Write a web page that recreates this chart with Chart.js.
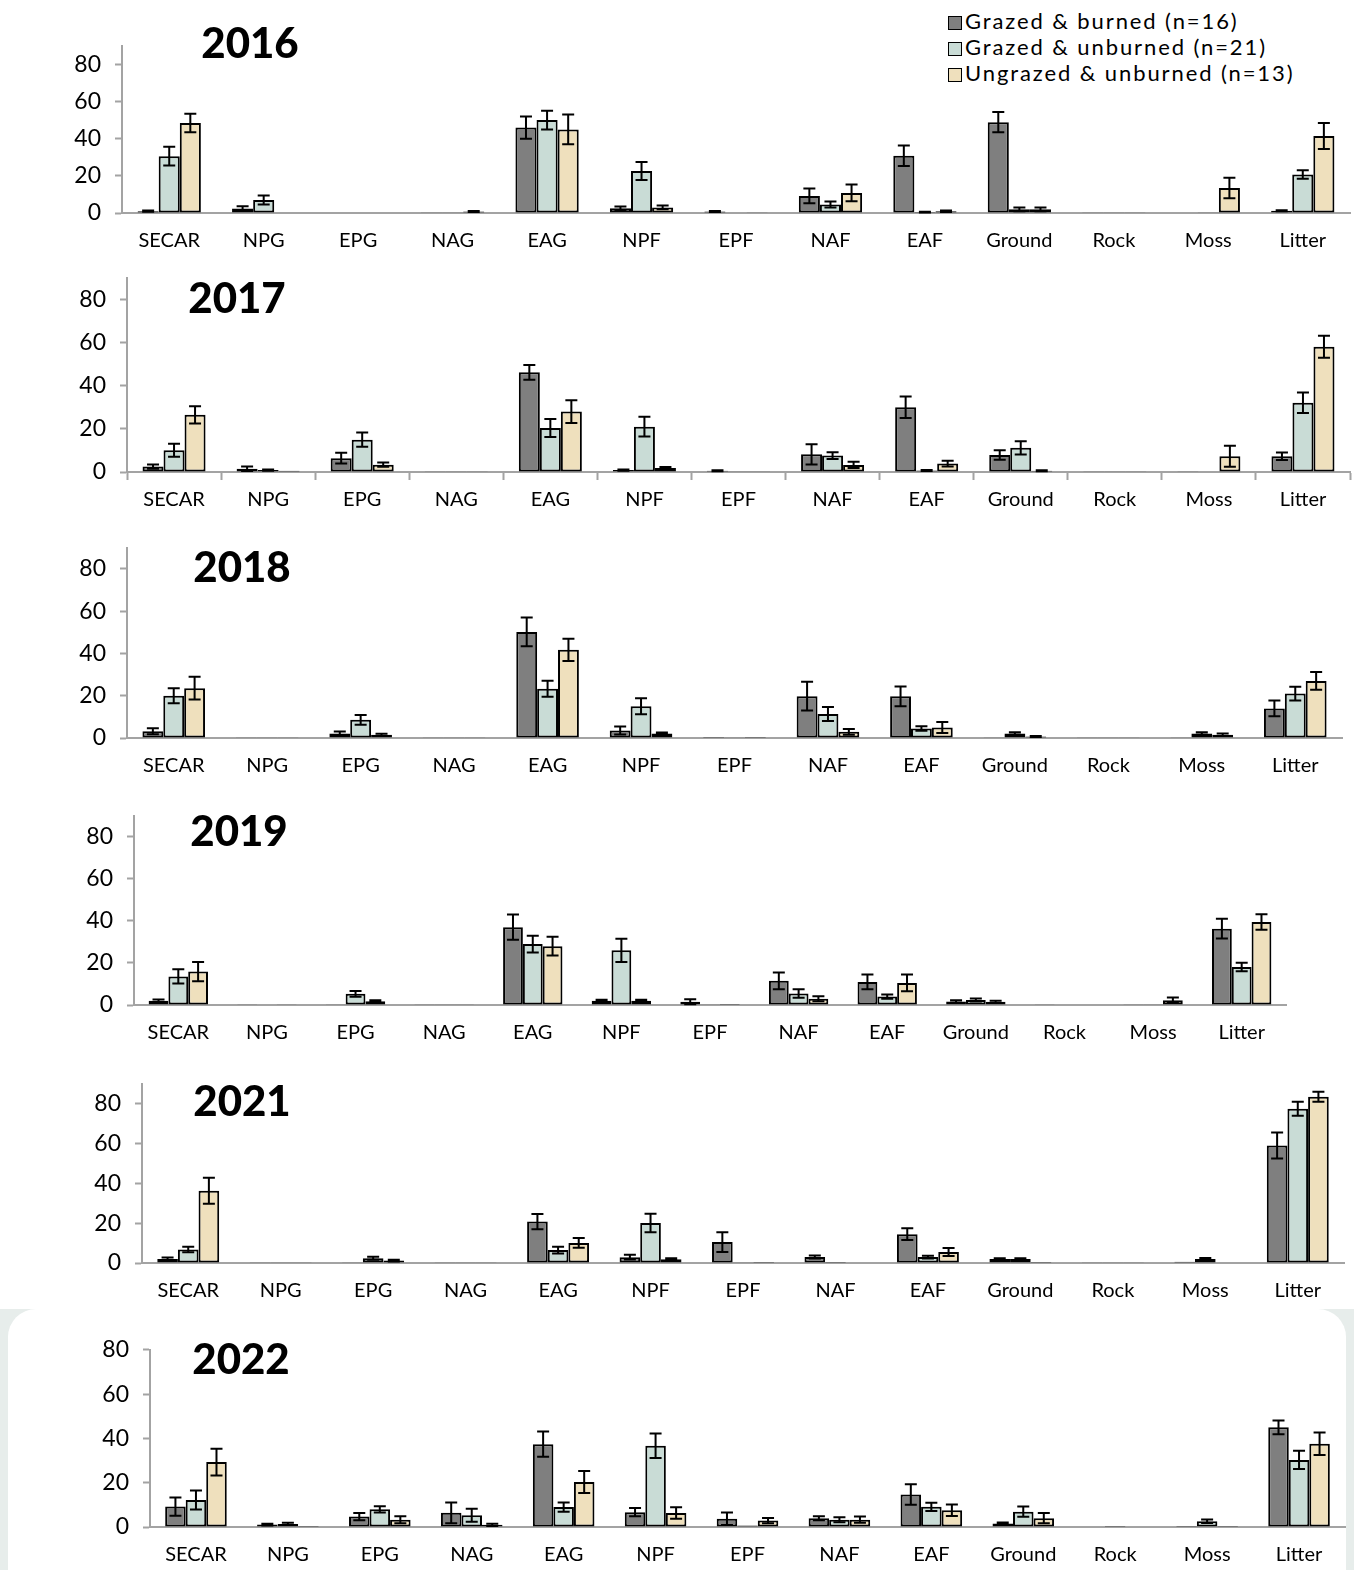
<!DOCTYPE html>
<html lang="en">
<head>
<meta charset="UTF-8">
<title>Cover by treatment</title>
<script src="https://cdn.jsdelivr.net/npm/chart.js@4.4.1/dist/chart.umd.min.js"></script>
<style>
  body { margin: 0; background: #fff; font-family: Lato, "Noto Sans", sans-serif; }
  #page { position: relative; width: 1354px; height: 1570px; overflow: hidden; }
  .panel { position: absolute; left: 0; }
  .year { position: absolute; font-weight: 900; font-size: 42px; transform: translate(-50%, -50%); color: #000; }
  #frame { position: absolute; left: 0; top: 1309px; width: 1354px; height: 261px; background: #e7edeb; }
  #frame div { position: absolute; left: 8px; top: 0; width: 1338px; height: 320px; background: #fff; border-radius: 28px; }
  #legend { position: absolute; left: 948px; top: 8px; font-size: 22px; letter-spacing: 1.9px; }
  #legend .row { height: 26px; line-height: 26px; white-space: nowrap; }
  #legend .sw { display: inline-block; width: 12px; height: 12px; border: 1.5px solid #000; margin-right: 3px; vertical-align: -1px; }
</style>
</head>
<body>
<div id="page">
  <div id="frame"><div></div></div>
  <div id="legend"></div>
</div>
<script>
const categories = ['SECAR', 'NPG', 'EPG', 'NAG', 'EAG', 'NPF', 'EPF', 'NAF', 'EAF', 'Ground', 'Rock', 'Moss', 'Litter'];
const seriesNames = ['Grazed & burned (n=16)', 'Grazed & unburned (n=21)', 'Ungrazed & unburned (n=13)'];
const seriesColors = ['#7f7f7f', '#c9dcd6', '#efe0bd'];
const yTicks = [0, 20, 40, 60, 80];

// mean cover (%) and standard error, per treatment
const gb2016 = [1, 2.4, 0, 0.2, 46, 2.5, 0.8, 9.2, 30.8, 48.9, 0.2, 0, 1.2];
const gb2016Err = [0.3, 1.2, 0, 0, 6, 1, 0.3, 4, 5.5, 5.5, 0, 0, 0.3];
const gu2016 = [30.6, 7, 0, 0.2, 50, 22.6, 0, 4.6, 0.5, 2, 0.2, 0.2, 20.7];
const gu2016Err = [5, 2.4, 0, 0, 5, 4.8, 0, 1.6, 0.2, 1, 0, 0, 2.3];
const uu2016 = [48.4, 0.3, 0, 0.8, 45, 3, 0.2, 10.8, 1, 2, 0.2, 13.5, 41.5];
const uu2016Err = [5, 0, 0, 0.3, 8, 1, 0, 4.5, 0.4, 1, 0, 5.5, 7];

const gb2017 = [2.5, 1.5, 6.4, 0.1, 46.2, 0.9, 0.6, 8.2, 30, 7.9, 0.1, 0.1, 7.3];
const gb2017Err = [1, 1, 2.5, 0, 3.4, 0.3, 0.2, 4.7, 5, 2.2, 0, 0, 1.7];
const gu2017 = [10.1, 0.9, 15, 0.1, 20.4, 21, 0.1, 7.6, 0.7, 11.2, 0.1, 0.2, 32.1];
const gu2017Err = [3, 0.3, 3.3, 0, 4.2, 4.6, 0, 1.6, 0.2, 3.1, 0, 0, 4.8];
const uu2017 = [26.5, 0.6, 3.4, 0.1, 28, 1.8, 0.3, 3.3, 3.9, 0.6, 0.1, 7.3, 58];
const uu2017Err = [4, 0, 1, 0, 5.3, 0.5, 0, 1.4, 1.3, 0.2, 0, 4.9, 5.1];

const gb2018 = [3.2, 0.1, 2.1, 0.1, 50.2, 3.6, 0.5, 19.8, 19.7, 0.3, 0.1, 0.1, 14];
const gb2018Err = [1.4, 0, 1, 0, 6.8, 1.9, 0, 6.8, 4.7, 0, 0, 0, 3.7];
const gu2018 = [20, 0.1, 8.6, 0.1, 23.3, 15, 0.1, 11.4, 4.5, 2.1, 0.1, 2.1, 21];
const gu2018Err = [3.6, 0, 2.3, 0, 3.8, 3.8, 0, 3.3, 1.1, 0.6, 0, 0.6, 3.2];
const uu2018 = [23.6, 0.1, 1.5, 0.1, 41.7, 2.1, 0.5, 2.9, 5, 0.7, 0.1, 1.5, 27];
const uu2018Err = [5.4, 0, 0.5, 0, 5.3, 0.5, 0, 1.4, 2.6, 0.2, 0, 0.6, 4.2];

const gb2019 = [2, 0.1, 0.3, 0.1, 37, 2, 1.5, 11.5, 11, 1.7, 0.1, 0.3, 36.3];
const gb2019Err = [0.6, 0, 0, 0, 6, 0.5, 1.2, 4, 3.5, 0.6, 0, 0, 4.7];
const gu2019 = [13.6, 0.2, 5.3, 0.1, 29, 26, 0.1, 5.5, 4, 2.4, 0.2, 0.1, 18.1];
const gu2019Err = [3.4, 0, 1.4, 0, 4, 5.5, 0, 2, 1, 0.7, 0, 0, 2];
const uu2019 = [15.9, 0.1, 1.8, 0.1, 28, 2, 0.5, 3, 10.5, 1.5, 0.2, 2.3, 39.5];
const uu2019Err = [4.6, 0, 0.5, 0, 4.5, 0.5, 0, 1.2, 4, 0.5, 0, 1.3, 3.7];

const gb2021 = [2, 0.1, 0.4, 0.1, 20.8, 2.9, 10.5, 3, 14.5, 2, 0.1, 0.6, 59];
const gb2021Err = [0.8, 0, 0, 0, 3.8, 1.2, 5, 0.8, 3, 0.4, 0, 0, 6.5];
const gu2021 = [6.8, 0.1, 2.4, 0.1, 6.5, 20.1, 0.1, 0.5, 3, 2, 0.1, 2, 77.5];
const gu2021Err = [1.4, 0, 0.8, 0, 1.7, 4.6, 0, 0, 0.7, 0.4, 0, 0.5, 3.5];
const uu2021 = [36.3, 0.1, 1.2, 0.1, 10.1, 1.9, 0.5, 0.3, 5.5, 0.5, 0.1, 0.3, 83.5];
const uu2021Err = [6.5, 0, 0.4, 0, 2.4, 0.5, 0, 0, 2, 0, 0, 0, 2.5];

const gb2022 = [9.2, 1.1, 4.7, 6.4, 37.4, 6.7, 3.7, 3.9, 14.7, 1.6, 0.2, 0.5, 45];
const gb2022Err = [4.1, 0.4, 1.6, 4.7, 5.7, 1.9, 2.8, 0.9, 4.6, 0.4, 0, 0, 3.1];
const gu2022 = [12.2, 1.4, 8, 5.3, 9, 36.7, 0.7, 3.3, 9.1, 6.9, 0.5, 2.6, 30.3];
const gu2022Err = [4.3, 0.5, 1.4, 2.9, 2.1, 5.5, 0, 1.1, 1.9, 2.3, 0, 0.8, 4.1];
const uu2022 = [29.3, 0.5, 3.3, 1, 20.3, 6.3, 2.9, 3.3, 7.6, 4, 0.2, 0.5, 37.6];
const uu2022Err = [6, 0, 1.6, 0.5, 5, 2.6, 1.2, 1.4, 2.6, 2.3, 0, 0, 5.1];

// layout of each panel on the page
const panels = [
  { year: '2016', means: [gb2016, gu2016, uu2016], errs: [gb2016Err, gu2016Err, uu2016Err], axisX: 122, top: 38, zero: 213, right: 1350, max: 90, xTicks: false, title: [250, 42] },
  { year: '2017', means: [gb2017, gu2017, uu2017], errs: [gb2017Err, gu2017Err, uu2017Err], axisX: 127, top: 270, zero: 472, right: 1350, max: 90, xTicks: true, title: [237, 297] },
  { year: '2018', means: [gb2018, gu2018, uu2018], errs: [gb2018Err, gu2018Err, uu2018Err], axisX: 127, top: 540, zero: 738, right: 1342, max: 90, xTicks: false, title: [242, 566] },
  { year: '2019', means: [gb2019, gu2019, uu2019], errs: [gb2019Err, gu2019Err, uu2019Err], axisX: 134, top: 808, zero: 1005, right: 1286, max: 90, xTicks: false, title: [239, 830] },
  { year: '2021', means: [gb2021, gu2021, uu2021], errs: [gb2021Err, gu2021Err, uu2021Err], axisX: 142, top: 1076, zero: 1263, right: 1344, max: 90, xTicks: false, title: [242, 1100] },
  { year: '2022', means: [gb2022, gu2022, uu2022], errs: [gb2022Err, gu2022Err, uu2022Err], axisX: 150, top: 1342, zero: 1527, right: 1345, max: 80, xTicks: false, title: [241, 1358] }
];

const axisGrey = '#a3a3a3';
const fontFamily = 'Lato, "Noto Sans", sans-serif';

// draws +/- SE whiskers on top of every bar
const errorBars = {
  id: 'errorBars',
  afterDatasetsDraw(chart) {
    const ctx = chart.ctx;
    const y = chart.scales.y;
    ctx.save();
    ctx.strokeStyle = '#000';
    ctx.lineWidth = 2;
    chart.data.datasets.forEach((ds, i) => {
      chart.getDatasetMeta(i).data.forEach((bar, j) => {
        const e = ds.errors[j];
        if (!e) return;
        const v = ds.data[j];
        const hi = y.getPixelForValue(v + e);
        const lo = y.getPixelForValue(Math.max(v - e, 0));
        const cap = 6;
        ctx.beginPath();
        ctx.moveTo(bar.x, hi); ctx.lineTo(bar.x, lo);
        ctx.moveTo(bar.x - cap, hi); ctx.lineTo(bar.x + cap, hi);
        ctx.moveTo(bar.x - cap, lo); ctx.lineTo(bar.x + cap, lo);
        ctx.stroke();
      });
    });
    ctx.restore();
  }
};

const page = document.getElementById('page');
const legend = document.getElementById('legend');
seriesNames.forEach((name, i) => {
  const row = document.createElement('div');
  row.className = 'row';
  row.innerHTML = '<span class="sw" style="background:' + seriesColors[i] + '"></span>' + name.replace(/&/g, '&amp;');
  legend.appendChild(row);
});

const PAD_TOP = 20;
const X_AXIS_H = 50;

panels.forEach(p => {
  const canvasTop = p.top - PAD_TOP;
  const h = p.zero - canvasTop + X_AXIS_H;
  const box = document.createElement('div');
  box.className = 'panel';
  box.style.top = canvasTop + 'px';
  box.style.width = '1354px';
  box.style.height = h + 'px';
  const canvas = document.createElement('canvas');
  box.appendChild(canvas);
  page.appendChild(box);

  const title = document.createElement('div');
  title.className = 'year';
  title.textContent = p.year;
  title.style.left = p.title[0] + 'px';
  title.style.top = p.title[1] + 'px';
  page.appendChild(title);

  new Chart(canvas, {
    type: 'bar',
    data: {
      labels: categories,
      datasets: seriesNames.map((name, i) => ({
        label: name,
        data: p.means[i],
        errors: p.errs[i],
        backgroundColor: seriesColors[i],
        borderColor: '#000',
        borderWidth: 2,
        borderSkipped: false,
        categoryPercentage: 0.67,
        barPercentage: 1.0
      }))
    },
    options: {
      responsive: true,
      maintainAspectRatio: false,
      animation: false,
      layout: { padding: { top: PAD_TOP, right: 1354 - p.right, left: 0, bottom: 0 } },
      plugins: { legend: { display: false }, tooltip: { enabled: false } },
      scales: {
        x: {
          afterFit: s => { s.height = X_AXIS_H; },
          border: { display: true, color: axisGrey, width: 2 },
          grid: { display: p.xTicks, offset: true, drawOnChartArea: false, drawTicks: p.xTicks, tickLength: 8, tickWidth: 2, tickColor: axisGrey },
          ticks: { color: '#000', padding: p.xTicks ? 8 : 16, maxRotation: 0, autoSkip: false, font: { family: fontFamily, size: 20 } }
        },
        y: {
          min: 0,
          max: p.max,
          afterFit: s => { s.width = p.axisX; },
          afterBuildTicks: s => { s.ticks = yTicks.map(v => ({ value: v })); },
          border: { display: true, color: axisGrey, width: 2 },
          grid: { drawOnChartArea: false, drawTicks: true, tickLength: 7, tickWidth: 2, tickColor: axisGrey },
          ticks: { color: '#000', padding: 14, font: { family: fontFamily, size: 23 } }
        }
      }
    },
    plugins: [errorBars]
  });
});
</script>
</body>
</html>
